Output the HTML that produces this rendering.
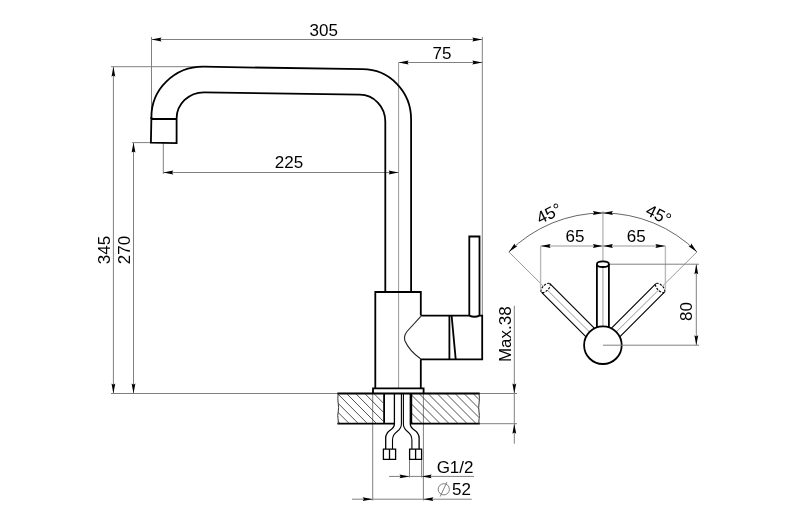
<!DOCTYPE html>
<html><head><meta charset="utf-8"><style>
html,body{margin:0;padding:0;background:#fff;}
svg{display:block;will-change:transform;}
text{font-family:"Liberation Sans",sans-serif;fill:#000;}
</style></head><body>
<svg width="800" height="527" viewBox="0 0 800 527">
<rect width="800" height="527" fill="#fff"/>
<line x1="151.5" y1="39.5" x2="482.3" y2="39.5" stroke="#808080" stroke-width="1.0" />
<polygon points="151.50,39.50 161.50,37.60 160.30,39.50 161.50,41.40" fill="#000"/>
<polygon points="482.30,39.50 472.30,41.40 473.50,39.50 472.30,37.60" fill="#000"/>
<line x1="151.5" y1="37" x2="151.5" y2="112" stroke="#808080" stroke-width="1.0" />
<line x1="482.3" y1="37" x2="482.3" y2="315.5" stroke="#808080" stroke-width="1.0" />
<text x="323.7" y="35.6" font-size="17" text-anchor="middle">305</text>
<line x1="398.6" y1="62.5" x2="482.3" y2="62.5" stroke="#808080" stroke-width="1.0" />
<polygon points="398.60,62.50 408.60,60.60 407.40,62.50 408.60,64.40" fill="#000"/>
<polygon points="482.30,62.50 472.30,64.40 473.50,62.50 472.30,60.60" fill="#000"/>
<line x1="398.6" y1="62.5" x2="398.6" y2="388.3" stroke="#999" stroke-width="1.0" />
<text x="442" y="59" font-size="17" text-anchor="middle">75</text>
<line x1="163.3" y1="172.5" x2="398.6" y2="172.5" stroke="#808080" stroke-width="1.0" />
<polygon points="163.30,172.50 173.30,170.60 172.10,172.50 173.30,174.40" fill="#000"/>
<polygon points="398.60,172.50 388.60,174.40 389.80,172.50 388.60,170.60" fill="#000"/>
<line x1="163.3" y1="143" x2="163.3" y2="174" stroke="#808080" stroke-width="1.0" />
<text x="289" y="168.3" font-size="17" text-anchor="middle">225</text>
<line x1="113.4" y1="66.7" x2="113.4" y2="393.5" stroke="#808080" stroke-width="1.0" />
<polygon points="113.40,66.70 115.30,76.70 113.40,75.50 111.50,76.70" fill="#000"/>
<polygon points="113.40,393.50 111.50,383.50 113.40,384.70 115.30,383.50" fill="#000"/>
<line x1="111" y1="66.7" x2="203" y2="66.7" stroke="#808080" stroke-width="1.0" />
<line x1="111" y1="393.5" x2="338" y2="393.5" stroke="#808080" stroke-width="1.0" />
<text x="110" y="250" font-size="17" text-anchor="middle" transform="rotate(-90 110 250)">345</text>
<line x1="133.5" y1="142.6" x2="133.5" y2="393.5" stroke="#808080" stroke-width="1.0" />
<polygon points="133.50,142.60 135.40,152.60 133.50,151.40 131.60,152.60" fill="#000"/>
<polygon points="133.50,393.50 131.60,383.50 133.50,384.70 135.40,383.50" fill="#000"/>
<line x1="132" y1="142.6" x2="151" y2="142.6" stroke="#808080" stroke-width="1.0" />
<text x="130" y="250" font-size="17" text-anchor="middle" transform="rotate(-90 130 250)">270</text>
<line x1="514.3" y1="305.8" x2="514.3" y2="393.5" stroke="#808080" stroke-width="1.0" />
<polygon points="514.30,393.50 512.40,383.50 514.30,384.70 516.20,383.50" fill="#000"/>
<line x1="514.3" y1="393.5" x2="514.3" y2="443.7" stroke="#808080" stroke-width="1.0" />
<polygon points="514.30,423.80 516.20,433.80 514.30,432.60 512.40,433.80" fill="#000"/>
<line x1="479" y1="393.5" x2="517" y2="393.5" stroke="#808080" stroke-width="1.0" />
<line x1="479" y1="423.7" x2="517" y2="423.7" stroke="#808080" stroke-width="1.0" />
<text x="511.5" y="334.2" font-size="17" text-anchor="middle" transform="rotate(-90 511.5 334.2)">Max.38</text>
<line x1="352" y1="499.2" x2="471.7" y2="499.2" stroke="#808080" stroke-width="1.0" />
<polygon points="372.70,499.20 362.70,501.10 363.90,499.20 362.70,497.30" fill="#000"/>
<polygon points="423.40,499.20 433.40,497.30 432.20,499.20 433.40,501.10" fill="#000"/>
<line x1="372.7" y1="393.5" x2="372.7" y2="500.5" stroke="#808080" stroke-width="1.0" />
<line x1="423.4" y1="393.5" x2="423.4" y2="500.5" stroke="#808080" stroke-width="1.0" />
<text x="471" y="494.8" font-size="17" text-anchor="end">52</text>
<circle cx="443.8" cy="489.3" r="5.6" fill="none" stroke="#808080" stroke-width="1"/>
<line x1="440.2" y1="496.5" x2="447" y2="482" stroke="#808080" stroke-width="1.0" />
<line x1="389" y1="476.4" x2="474" y2="476.4" stroke="#808080" stroke-width="1.0" />
<polygon points="409.50,476.40 399.50,478.30 400.70,476.40 399.50,474.50" fill="#000"/>
<polygon points="421.60,476.40 431.60,474.50 430.40,476.40 431.60,478.30" fill="#000"/>
<line x1="409.5" y1="459.3" x2="409.5" y2="477.5" stroke="#808080" stroke-width="1.0" />
<line x1="421.6" y1="459.3" x2="421.6" y2="477.5" stroke="#808080" stroke-width="1.0" />
<text x="473.5" y="472.6" font-size="17" text-anchor="end">G1/2</text>
<path d="M151.4,119 L151.4,117 A51.6,50.3 0 0 1 203,66.7 L362.5,69.2 A48.6,50 0 0 1 411.1,119.2 L411.1,292" stroke="#000" stroke-width="1.8" fill="none" />
<path d="M176.6,119 L176.6,118.5 A27.4,26.2 0 0 1 204,92.3 L359.8,94.6 A25.5,27 0 0 1 385.3,121.6 L385.3,292" stroke="#000" stroke-width="1.8" fill="none" />
<path d="M151.6,119 H176.6 M151.4,117 L150.9,142.6 L176.6,143.1 V119" stroke="#000" stroke-width="1.8" fill="none" />
<path d="M420.8,315.5 V292 H375.3 V388.3 M420.8,359.3 V388.3" stroke="#000" stroke-width="1.8" fill="none" />
<path d="M373,393.5 V388.3 H423.6 V393.5" stroke="#000" stroke-width="1.8" fill="none" />
<path d="M420.8,315.6 H469.3 Q474.4,317.9 479.5,315.6 H482.2 V359.3 H420.8" stroke="#000" stroke-width="1.8" fill="none" />
<path d="M449.4,315.5 V359.3" stroke="#000" stroke-width="1.8" fill="none" />
<path d="M451.6,315.5 L455.7,359.3" stroke="#000" stroke-width="1.8" fill="none" />
<path d="M420.8,316.3 L407,331.5 Q403.6,336 404.8,340.5 Q409,350.5 420.8,359" stroke="#222" stroke-width="1.1" fill="none" />
<path d="M469.3,315.6 V236.5 H479.5 V315.6" stroke="#000" stroke-width="1.8" fill="none" />
<path d="M337.4,393.5 H479.7 M337.4,423.7 H394.5 M410.5,423.7 H479.7" stroke="#000" stroke-width="1.8" fill="none" />
<path d="M384.1,393.5 V423.8 M411.3,393.5 V423.8" stroke="#000" stroke-width="1.8" fill="none" />
<clipPath id="cl"><rect x="338.2" y="394" width="45.2" height="29.2"/></clipPath>
<clipPath id="cr"><rect x="412" y="394" width="66.6" height="29.2"/></clipPath>
<path d="M282.8,393.5 l31,31 M291.9,393.5 l31,31 M301.0,393.5 l31,31 M310.1,393.5 l31,31 M319.2,393.5 l31,31 M328.3,393.5 l31,31 M337.4,393.5 l31,31 M346.5,393.5 l31,31 M355.6,393.5 l31,31 M364.7,393.5 l31,31 M373.8,393.5 l31,31 M382.9,393.5 l31,31 M392.0,393.5 l31,31 M401.1,393.5 l31,31 M410.2,393.5 l31,31 M419.3,393.5 l31,31 M428.4,393.5 l31,31 M437.5,393.5 l31,31 M446.6,393.5 l31,31 M455.7,393.5 l31,31" stroke="#333" stroke-width="0.85" clip-path="url(#cl)"/>
<path d="M356.0,393.5 l31,31 M365.0,393.5 l31,31 M374.0,393.5 l31,31 M383.0,393.5 l31,31 M392.0,393.5 l31,31 M401.0,393.5 l31,31 M410.0,393.5 l31,31 M419.0,393.5 l31,31 M428.0,393.5 l31,31 M437.0,393.5 l31,31 M446.0,393.5 l31,31 M455.0,393.5 l31,31 M464.0,393.5 l31,31 M473.0,393.5 l31,31 M482.0,393.5 l31,31 M491.0,393.5 l31,31 M500.0,393.5 l31,31 M509.0,393.5 l31,31 M518.0,393.5 l31,31 M527.0,393.5 l31,31" stroke="#333" stroke-width="0.85" clip-path="url(#cr)"/>
<path d="M338.2,393.5 C336.8,401 339.6,406 338.2,412 C337,417 338.8,420 338.2,423.7" stroke="#333" stroke-width="1.0" fill="none" />
<path d="M479,393.5 C480.4,400 477.8,406 479,412 C480,417 478.4,420 479,423.7" stroke="#333" stroke-width="1.0" fill="none" />
<path d="M394.4,393.5 V424 C394.4,431 385.7,429 385.7,438 V449.1" stroke="#000" stroke-width="1.3" fill="none" />
<path d="M401.4,393.5 V424 C401.4,433 392.5,430 392.5,440 V449.1" stroke="#000" stroke-width="1.1" fill="none" />
<path d="M403.4,393.5 V424 C403.4,433 411.9,430 411.9,440 V449.1" stroke="#000" stroke-width="1.1" fill="none" />
<path d="M410.3,393.5 V424 C410.3,431 419.1,429 419.1,438 V449.1" stroke="#000" stroke-width="1.3" fill="none" />
<path d="M383.4,449.1 H395.6 V459.3 H383.4 Z M389.5,449.1 V459.3" stroke="#000" stroke-width="1.3" fill="none" />
<path d="M409.6,449.1 H421.6 V459.3 H409.6 Z M415.6,449.1 V459.3" stroke="#000" stroke-width="1.3" fill="none" />
<line x1="602.9" y1="211" x2="602.9" y2="345" stroke="#bbb" stroke-width="1.4" />
<path d="M508.85,251.95 A133,133 0 0 1 696.95,251.95" stroke="#666" stroke-width="1" fill="none"/>
<polygon points="508.85,251.95 514.58,243.54 515.08,245.73 517.27,246.23" fill="#000"/>
<polygon points="696.95,251.95 688.53,246.23 690.72,245.73 691.22,243.54" fill="#000"/>
<polygon points="602.90,213.00 592.90,214.90 594.10,213.00 592.90,211.10" fill="#000"/>
<polygon points="602.90,213.00 612.90,211.10 611.70,213.00 612.90,214.90" fill="#000"/>
<line x1="508.85479810218914" y1="251.9547981021892" x2="602.9" y2="345.2" stroke="#999" stroke-width="1.0" />
<line x1="696.9452018978108" y1="251.95479810218916" x2="602.9" y2="345.2" stroke="#999" stroke-width="1.0" />
<line x1="540.6" y1="246" x2="665.4" y2="246" stroke="#bbb" stroke-width="1.3" />
<polygon points="540.60,246.00 550.60,244.10 549.40,246.00 550.60,247.90" fill="#000"/>
<polygon points="602.90,246.00 592.90,247.90 594.10,246.00 592.90,244.10" fill="#000"/>
<polygon points="602.90,246.00 612.90,244.10 611.70,246.00 612.90,247.90" fill="#000"/>
<polygon points="665.40,246.00 655.40,247.90 656.60,246.00 655.40,244.10" fill="#000"/>
<line x1="540.6" y1="246" x2="540.6" y2="289" stroke="#bbb" stroke-width="1.4" />
<line x1="665.4" y1="246" x2="665.4" y2="289" stroke="#bbb" stroke-width="1.4" />
<text x="575" y="242" font-size="17" text-anchor="middle">65</text>
<text x="636.3" y="242" font-size="17" text-anchor="middle">65</text>
<line x1="602.9" y1="264.2" x2="699" y2="264.2" stroke="#808080" stroke-width="1.0" />
<line x1="696.3" y1="264.2" x2="696.3" y2="345.2" stroke="#808080" stroke-width="1.0" />
<polygon points="696.30,264.20 698.20,274.20 696.30,273.00 694.40,274.20" fill="#000"/>
<polygon points="696.30,345.20 694.40,335.20 696.30,336.40 698.20,335.20" fill="#000"/>
<text x="692" y="311.5" font-size="17" text-anchor="middle" transform="rotate(-90 692 311.5)">80</text>
<text x="551.5" y="218.7" font-size="17" text-anchor="middle" transform="rotate(-26 551.5 218.7)">45°</text>
<text x="656" y="220" font-size="17" text-anchor="middle" transform="rotate(26 656 220)">45°</text>
<path d="M608.90,327.38 L608.90,264.20 M596.90,327.38 L596.90,264.20" stroke="#000" stroke-width="1.8" fill="none" />
<ellipse cx="602.90" cy="264.20" rx="6" ry="2.8" transform="rotate(360.0 602.90 264.20)" fill="#fff" stroke="#000" stroke-width="1.8" />
<path d="M594.54,328.36 L549.87,283.68 M586.06,336.84 L541.38,292.17" stroke="#000" stroke-width="1.15" fill="none" />
<ellipse cx="545.62" cy="287.92" rx="6" ry="2.8" transform="rotate(315.0 545.62 287.92)" fill="#fff" stroke="#000" stroke-width="1.15" stroke-dasharray="2.2,1.4"/>
<path d="M619.74,336.84 L664.42,292.17 M611.26,328.36 L655.93,283.68" stroke="#000" stroke-width="1.15" fill="none" />
<ellipse cx="660.18" cy="287.92" rx="6" ry="2.8" transform="rotate(405.0 660.18 287.92)" fill="#fff" stroke="#000" stroke-width="1.15" stroke-dasharray="2.2,1.4"/>
<circle cx="602.9" cy="345.2" r="18.8" fill="#fff" stroke="#000" stroke-width="1.8"/>
<line x1="602.9" y1="345.2" x2="699" y2="345.2" stroke="#808080" stroke-width="1.0" />
</svg>
</body></html>
